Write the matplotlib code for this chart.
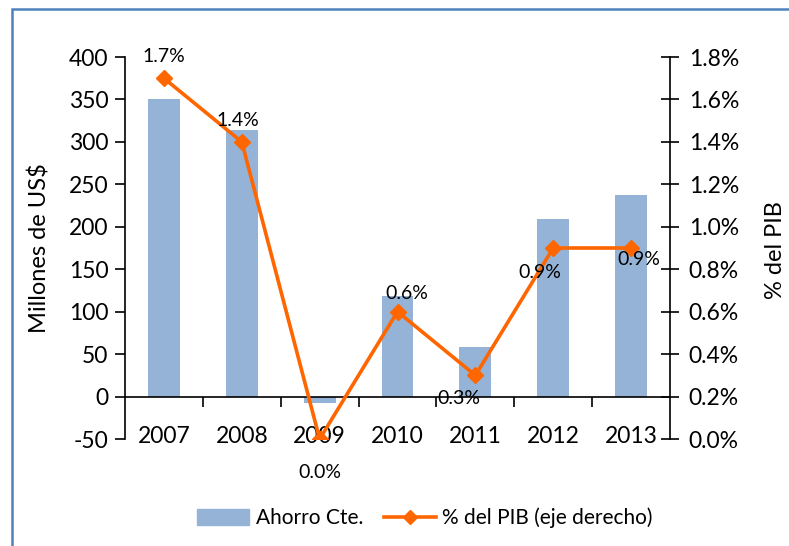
import matplotlib
matplotlib.use("Agg")
import matplotlib.pyplot as plt
from matplotlib.patches import Rectangle
from matplotlib.ticker import FuncFormatter, FixedLocator
from matplotlib.lines import Line2D
from matplotlib.patches import Patch

years = ["2007", "2008", "2009", "2010", "2011", "2012", "2013"]
ahorro = [350, 314, -8, 118, 58, 209, 238]
pib_pct = [1.7, 1.4, 0.0, 0.6, 0.3, 0.9, 0.9]
pib_labels = ["1.7%", "1.4%", "0.0%", "0.6%", "0.3%", "0.9%", "0.9%"]
label_offsets = [(0, 22), (-4, 21), (0, -34), (9, 18), (-16, -23), (-13, -24), (8, -11)]

plt.rcParams['font.family'] = ['Lato', 'DejaVu Sans']
plt.rcParams['axes.unicode_minus'] = False

bar_color = "#95B3D7"
line_color = "#FF6600"
tick_fs = 16.5

fig = plt.figure(figsize=(7.89, 5.46), dpi=100)
ax = fig.add_axes([125/789, 1-439/546, (670-125)/789, (439-57)/546])
x = list(range(len(years)))

ax.bar(x, ahorro, width=0.41, color=bar_color, zorder=2)
ax.set_xlim(-0.5, len(years)-0.5)
ax.set_ylim(-50, 400)
ax.set_yticks(range(-50, 401, 50))
ax.tick_params(axis='y', direction='out', length=7, width=1.2, labelsize=tick_fs, pad=5)
ax.spines['top'].set_visible(False)
ax.spines['right'].set_visible(False)
ax.spines['left'].set_linewidth(1.2)
ax.spines['bottom'].set_position(('data', 0))
ax.spines['bottom'].set_linewidth(1.2)
ax.set_xticks(x)
ax.set_xticklabels(years)
ax.tick_params(axis='x', which='major', length=0, labelsize=tick_fs, pad=21)
ax.xaxis.set_minor_locator(FixedLocator([i + 0.5 for i in range(len(years) - 1)]))
ax.tick_params(axis='x', which='minor', length=7, width=1.2, direction='out')

ax2 = ax.twinx()
ax2.plot(x, pib_pct, color=line_color, lw=2.6, marker='D', markersize=8.5, zorder=3)
ax2.set_ylim(0, 1.8)
ax2.set_yticks([i * 0.2 for i in range(10)])
ax2.yaxis.set_major_formatter(FuncFormatter(lambda v, p: f"{v:.1f}%"))
ax2.tick_params(axis='y', direction='inout', length=13, width=1.2, labelsize=tick_fs, pad=7)
for s in ['top', 'left', 'bottom']:
    ax2.spines[s].set_visible(False)
ax2.spines['right'].set_linewidth(1.2)

fig.text(40/789, 1-248/546, "Millones de US$", rotation=90, ha='center', va='center', fontsize=17)
fig.text(775/789, 1-250/546, "% del PIB", rotation=90, ha='center', va='center', fontsize=17)

for xi, yi, lab, off in zip(x, pib_pct, pib_labels, label_offsets):
    ax2.annotate(lab, (xi, yi), xytext=off, textcoords='offset pixels',
                 ha='center', va='center', fontsize=14, zorder=4)

handles = [Patch(color=bar_color),
           Line2D([0], [0], color=line_color, lw=2.6, marker='D', markersize=7)]
fig.legend(handles, ["Ahorro Cte.", "% del PIB (eje derecho)"], loc='center',
           bbox_to_anchor=(425/789, 1-518/546), ncol=2, frameon=False,
           fontsize=15, handlelength=2.5, handleheight=0.8, columnspacing=1.0,
           handletextpad=0.3)

fig.patches.append(Rectangle((12/789, -0.1), 1.2, 1 - 9/546 + 0.1,
                             transform=fig.transFigure, fill=False,
                             edgecolor="#4F81BD", lw=1.8))

fig.savefig("out.png", dpi=100)
